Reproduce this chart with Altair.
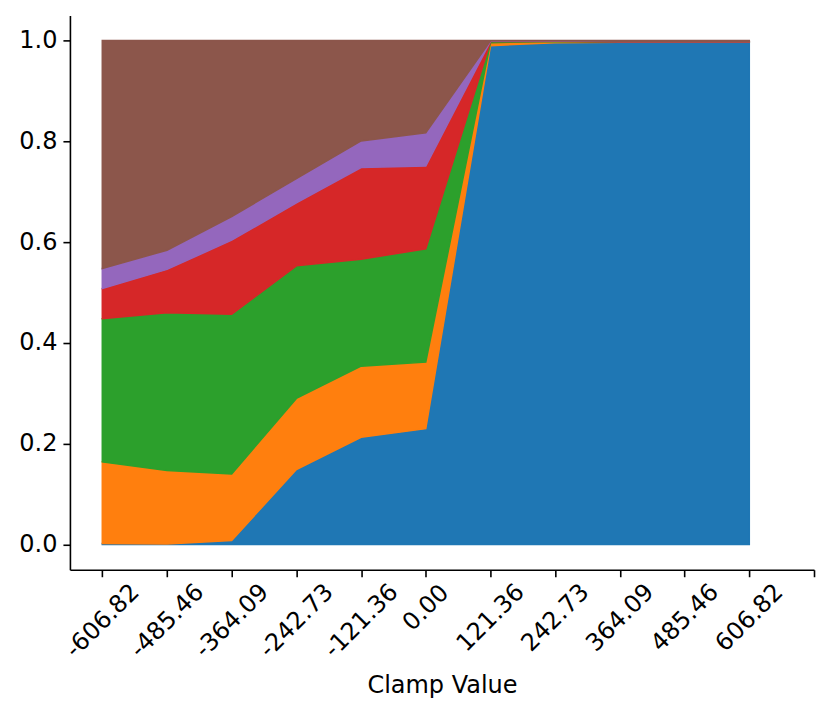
import altair as alt
import pandas as pd

tick_labels = ["-606.82", "-485.46", "-364.09", "-242.73", "-121.36", "0.00",
               "121.36", "242.73", "364.09", "485.46", "606.82"]
positions = list(range(11))

series_names = ["Series 1", "Series 2", "Series 3", "Series 4", "Series 5", "Series 6"]
series_colors = ["#1f77b4", "#ff7f0e", "#2ca02c", "#d62728", "#9467bd", "#8c564b"]

s1 = [0.002, 0.001, 0.008, 0.149, 0.213, 0.230, 0.990, 0.996, 0.997, 0.997, 0.997]
s2 = [0.162, 0.146, 0.132, 0.141, 0.141, 0.132, 0.006, 0.002, 0.000, 0.000, 0.000]
s3 = [0.284, 0.313, 0.317, 0.263, 0.212, 0.225, 0.002, 0.0005, 0.0005, 0.0005, 0.0005]
s4 = [0.060, 0.086, 0.147, 0.125, 0.182, 0.164, 0.001, 0.0005, 0.0005, 0.0005, 0.0005]
s5 = [0.040, 0.038, 0.047, 0.048, 0.053, 0.066, 0.0005, 0.0005, 0.0005, 0.0005, 0.0005]
s6 = [0.452, 0.416, 0.349, 0.274, 0.199, 0.183, 0.0005, 0.0005, 0.0015, 0.0015, 0.0015]

all_series = [s1, s2, s3, s4, s5, s6]

rows = []
for k, (name, vals) in enumerate(zip(series_names, all_series)):
    for p, v in zip(positions, vals):
        rows.append({"pos": p, "value": v, "series": name, "k": k})
df = pd.DataFrame(rows)

label_js = "[" + ",".join("'%s'" % t for t in tick_labels) + "]"
label_expr = "datum.value < 11 ? %s[datum.value] : ''" % label_js

FONT = "DejaVu Sans"
FS = 24

x_axis = alt.Axis(
    values=list(range(12)),
    labelExpr=label_expr,
    labelAngle=-45,
    labelAlign="center",
    labelBaseline="middle",
    labelPadding={"condition": [
        {"test": "datum.value < 5", "value": 44},
        {"test": "datum.value == 5", "value": 31},
    ], "value": 41},
    labelOverlap=False,
    labelFlush=False,
    labelFont=FONT,
    labelFontSize=FS,
    labelColor="black",
    tickSize=7,
    tickWidth=1.6,
    tickColor="black",
    domainColor="black",
    domainWidth=1.6,
    grid=False,
    title="Clamp Value",
    titleFont=FONT,
    titleFontSize=FS,
    titleFontWeight="normal",
    titleColor="black",
    titlePadding=12,
)

y_axis = alt.Axis(
    values=[0.0, 0.2, 0.4, 0.6, 0.8, 1.0],
    format=".1f",
    labelFont=FONT,
    labelFontSize=FS,
    labelColor="black",
    labelPadding=6,
    tickSize=7,
    tickWidth=1.6,
    tickColor="black",
    domainColor="black",
    domainWidth=1.6,
    grid=False,
    title=None,
)

chart = alt.Chart(df).mark_area(strokeWidth=1.5, clip=True).encode(
    x=alt.X("pos:Q", scale=alt.Scale(domain=[-0.5, 11], nice=False, zero=False), axis=x_axis),
    y=alt.Y("value:Q", stack="zero", scale=alt.Scale(domain=[-0.05, 1.05], nice=False, zero=False), axis=y_axis),
    color=alt.Color("series:N", scale=alt.Scale(domain=series_names, range=series_colors), legend=None),
    stroke=alt.Stroke("series:N", scale=alt.Scale(domain=series_names, range=series_colors), legend=None),
    order=alt.Order("k:Q"),
).properties(
    width=745,
    height=555,
    background="white",
    autosize=alt.AutoSizeParams(type="none"),
    padding={"left": 62, "top": 7, "right": 8, "bottom": 140},
).configure_view(stroke="transparent", strokeWidth=0)

chart.save("out.html", embed_options={"renderer": "svg", "actions": False})
